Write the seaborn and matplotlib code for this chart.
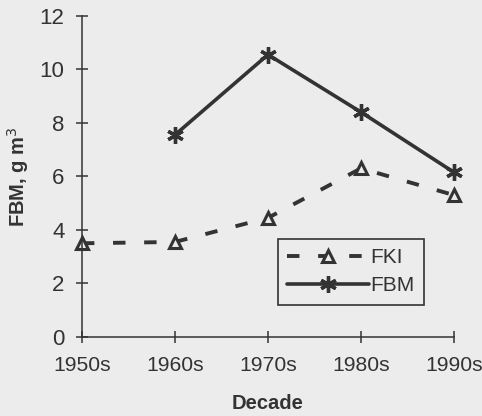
import matplotlib
matplotlib.use("Agg")
import matplotlib.pyplot as plt
import seaborn as sns
import numpy as np

decades = ["1950s", "1960s", "1970s", "1980s", "1990s"]
fki = [3.5, 3.55, 4.45, 6.3, 5.3]
fbm = [np.nan, 7.55, 10.55, 8.4, 6.15]
yticks = [0, 2, 4, 6, 8, 10, 12]

bg = "#ececec"
ink = "#333333"

sns.set_theme(style="ticks")
plt.rcParams["font.family"] = ["Liberation Sans", "DejaVu Sans"]
plt.rcParams["text.color"] = ink
plt.rcParams["axes.labelcolor"] = ink
plt.rcParams["xtick.color"] = ink
plt.rcParams["ytick.color"] = ink

fig = plt.figure(figsize=(4.82, 4.16), dpi=100, facecolor=bg)
ax = fig.add_axes([0.170, 0.190, 0.772, 0.772])
ax.set_facecolor(bg)

sns.lineplot(x=decades, y=fki, ax=ax, color=ink, lw=2.8, linestyle=(0, (3.2, 4.8)),
             marker="^", ms=9, mfc=bg, mec=ink, mew=2.2, label="FKI", clip_on=False)
sns.lineplot(x=decades, y=fbm, ax=ax, color=ink, lw=2.6, linestyle="-",
             marker=(6, 2, 0), ms=12, mec=ink, mew=2.4, label="FBM", clip_on=False)

ax.set_xlim(0, 4)
ax.set_ylim(0, 12)
ax.set_yticks(yticks)
for s in ["top", "right"]:
    ax.spines[s].set_visible(False)
for s in ["left", "bottom"]:
    ax.spines[s].set_color(ink)
    ax.spines[s].set_linewidth(1.1)
ax.tick_params(direction="inout", length=9, width=1.1, labelsize=16)
ax.tick_params(axis="x", pad=9, labelsize=15.2)
ax.tick_params(axis="y", pad=8)
ax.set_xlabel("Decade", fontsize=14.5, fontweight="bold", labelpad=14)
ax.set_ylabel("FBM, g m$^3$", fontsize=14.5, fontweight="bold", labelpad=6)

leg = ax.legend(loc="lower left", bbox_to_anchor=(0.527, 0.10), borderaxespad=0,
                fontsize=15, frameon=True, fancybox=False, edgecolor=ink, facecolor=bg,
                framealpha=1, handlelength=3.9, borderpad=0.45, labelspacing=0.45,
                handletextpad=0.1)
leg.get_frame().set_linewidth(1.2)

fig.savefig("out.png", dpi=100, facecolor=bg)
